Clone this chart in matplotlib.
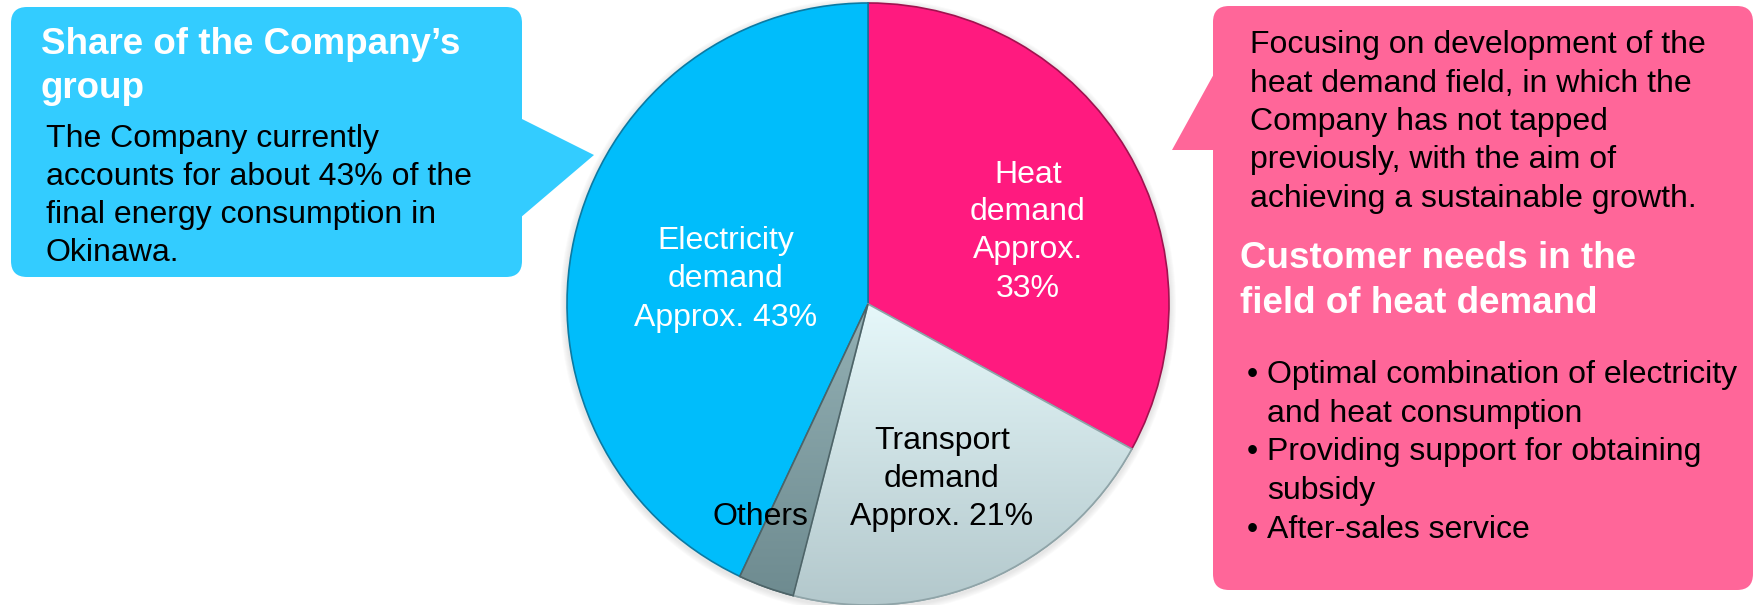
import numpy as np
import matplotlib.pyplot as plt
from matplotlib.patches import FancyBboxPatch, Polygon, Circle, Wedge
from matplotlib.colors import LinearSegmentedColormap

plt.rcParams['font.family'] = ['Liberation Sans', 'DejaVu Sans']

W, H = 1756, 605

# pie data, clockwise from 12 o'clock
segments = ['Heat demand', 'Transport demand', 'Others', 'Electricity demand']
shares = [33, 21, 3, 43]
slice_colors = ['#ff1a7f', '#d4e8eb', '#7f9da2', '#00bdfb']
edge_colors = ['#a0124f', '#8fa4a8', '#4d6468', '#0b7aa3']

left_title = ["Share of the Company\u2019s", "group"]
left_body = ["The Company currently",
             f"accounts for about {shares[3]}% of the",
             "final energy consumption in",
             "Okinawa."]
right_intro = ["Focusing on development of the",
               "heat demand field, in which the",
               "Company has not tapped",
               "previously, with the aim of",
               "achieving a sustainable growth."]
right_title = ["Customer needs in the", "field of heat demand"]
right_bullets = [["Optimal combination of electricity", "and heat consumption"],
                 ["Providing support for obtaining", "subsidy"],
                 ["After-sales service"]]

BLUE = '#33ccff'
PINK = '#ff6699'

fig = plt.figure(figsize=(W / 100, H / 100), dpi=100)
ax = fig.add_axes([0, 0, 1, 1])


def txt(x, y, s, size=23, color='black', weight='normal', ha='left', z=10):
    # y is measured from the top edge, in pixels
    ax.text(x, H - y, s, fontsize=size, color=color, fontweight=weight,
            ha=ha, va='baseline', zorder=z)


# callout boxes with their pointers
ax.add_patch(FancyBboxPatch((11, H - 277), 511, 270,
                            boxstyle='round,pad=0,rounding_size=16',
                            fc=BLUE, ec='none', zorder=1))
ax.add_patch(Polygon([(520, H - 118), (594, H - 155), (520, H - 218)],
                     closed=True, fc=BLUE, ec='none', zorder=1))
ax.add_patch(FancyBboxPatch((1213, H - 590), 540, 584,
                            boxstyle='round,pad=0,rounding_size=16',
                            fc=PINK, ec='none', zorder=1))
ax.add_patch(Polygon([(1215, H - 72), (1172, H - 150), (1215, H - 150)],
                     closed=True, fc=PINK, ec='none', zorder=1))

# pie with a soft halo
cx, cy, r = 868, H - 304, 301
for k in range(6):
    ax.add_patch(Circle((cx, cy - 2), r + 7 - k, fc='#8a8a8a',
                        alpha=0.035, ec='none', zorder=2))

wedges, _ = ax.pie(shares, colors=slice_colors, startangle=90,
                   counterclock=False, center=(cx, cy), radius=r,
                   wedgeprops=dict(linewidth=1.2))
for w, ec in zip(wedges, edge_colors):
    w.set_edgecolor(ec)
    w.set_zorder(3)

# vertical shading on the transport and others slices
for w, top, bottom in [(wedges[1], '#e6f8fa', '#b3c8cc'),
                       (wedges[2], '#93b0b4', '#6d8a8f')]:
    cmap = LinearSegmentedColormap.from_list('shade', [bottom, top])
    grad = np.linspace(0, 1, 256).reshape(-1, 1)
    im = ax.imshow(grad, cmap=cmap, origin='lower', aspect='auto',
                   extent=(cx - r, cx + r, cy - r, cy), zorder=3.5)
    im.set_clip_path(w)
    ax.add_patch(Wedge(w.center, w.r, w.theta1, w.theta2, fc='none',
                       ec=w.get_edgecolor(), lw=1.2, zorder=3.6))

# slice labels
heat_lines = ['Heat', 'demand', 'Approx.', f'{shares[0]}%']
for s, y in zip(heat_lines, [183, 220, 258, 297]):
    txt(1028, y, s, color='white', ha='center')
trans_lines = ['Transport', 'demand', f'Approx. {shares[1]}%']
for s, y in zip(trans_lines, [449, 487, 525]):
    txt(942, y, s, ha='center')
txt(760, 525, 'Others', ha='center')
elec_lines = ['Electricity', 'demand', f'Approx. {shares[3]}%']
for s, y in zip(elec_lines, [249, 287, 326]):
    txt(726, y, s, color='white', ha='center')

# left box text
for s, y in zip(left_title, [54, 98]):
    txt(41, y, s, size=26.5, color='white', weight='bold')
for s, y in zip(left_body, [147, 185, 223, 261]):
    txt(46, y, s)

# right box text
for s, y in zip(right_intro, [53, 92, 130, 168, 207]):
    txt(1250, y, s)
for s, y in zip(right_title, [268, 313]):
    txt(1240, y, s, size=26.5, color='white', weight='bold')
y = 383
for item in right_bullets:
    txt(1252, y, '\u2022', ha='center')
    for s in item:
        txt(1267, y, s)
        y += 38.7

ax.set_xlim(0, W)
ax.set_ylim(0, H)
ax.set_aspect('auto')
ax.axis('off')

fig.savefig('out.png', dpi=100)
